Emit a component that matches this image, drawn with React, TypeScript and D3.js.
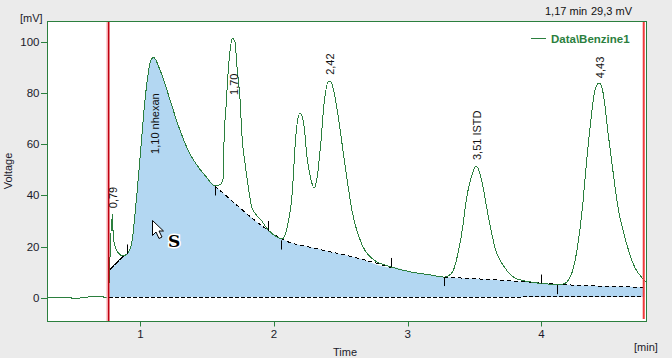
import React from "react";
import * as d3 from "d3";

const traceT = [0.307,0.474,0.497,0.609,0.699,0.736,0.758,0.770,0.773,0.791,0.798,0.811,0.835,0.861,0.880,0.910,0.936,0.960,0.985,1.043,1.073,1.099,1.147,1.222,1.275,1.357,1.499,1.559,1.596,1.621,1.626,1.641,1.664,1.690,1.708,1.723,1.746,1.761,1.783,1.798,1.836,1.903,1.956,2.038,2.060,2.097,2.135,2.165,2.195,2.225,2.247,2.277,2.300,2.322,2.352,2.375,2.412,2.427,2.464,2.502,2.547,2.584,2.659,2.749,2.876,3.026,3.175,3.272,3.302,3.339,3.377,3.414,3.437,3.474,3.512,3.549,3.601,3.654,3.728,3.803,3.923,4.050,4.162,4.222,4.260,4.290,4.312,4.327,4.365,4.402,4.432,4.462,4.499,4.544,4.574,4.626,4.701,4.761,4.783];
const traceV = [0,0,-0.4,0.2,0.6,0,-0.2,10.8,15.5,32.5,23.3,20.2,17.5,16.5,16.5,17.8,21.4,32.5,46.9,81.4,92.0,94.1,89.2,77.5,68.8,57.8,46.9,43.7,44.2,46.9,61.0,74.7,93.1,101.6,100.2,90.4,77.5,62.9,52.7,46.9,35.1,30.4,26.5,23.3,22.9,27.3,40.2,64.5,72.4,66.9,55.1,46.1,42.9,46.9,61.8,76.3,84.9,84.5,76.3,62.9,46.1,33.9,20.6,14.7,12.0,10.0,8.8,8.0,8.4,10.4,17.5,28.4,37.8,46.9,51.6,46.9,32.4,19.4,11.6,7.6,6.1,5.3,5.3,8.8,16.7,27.3,37.8,46.9,66.9,81.4,84.1,80.2,64.5,46.1,35.1,23.3,11.6,7.3,6.1];

const baseSegT = [[0.770,0.880],[1.559,1.626,1.950,2.060,2.324,2.623,2.873],[3.272,3.626,3.900,4.120,4.474,4.770]];
const baseSegV = [[10.8,16.5],[43.7,40.6,26.6,22.9,19.1,15.5,11.8],[8.0,7.0,6.1,5.2,4.4,4.0]];
const zeroT = [0.765,2.9,4.77];
const zeroV = [0.1,0.1,0.4];

const markT = [0.900,1.562,1.957,2.050,2.878,3.268,4.000,4.120];
const markTop = [20.8,43.7,30,22.4,15.5,8,9,4.9];
const markBottom = [17,40,26,18.8,12,4.5,5.5,1.3];

const labelTexts = ["0,79","1,10 nhexan","1,70","2,42","3,51 ISTD","4,43"];
const labelT = [0.796,1.11,1.70,2.42,3.52,4.44];
const labelV = [35,56.3,79.4,87.3,53.9,86];

const yTicks = [0,20,40,60,80,100];
const xTicks = [1,2,3,4];
const cursorStart = 0.758;
const cursorEnd = 4.762;

const W = 672, H = 358;
const L = 47.5, R = 646.5, T = 21.5, B = 321.5;
const FONT = "'Liberation Sans', sans-serif";
const GREEN = "#2b7f3e";
const TXT = "#1a1a2a";

export default function App() {
  const x = d3.scaleLinear().domain([0.307, 4.785]).range([L + 0.2, R - 0.2]);
  const y = d3.scaleLinear().domain([-9.4, 108.2]).range([B, T]);
  const pts: [number, number][] = traceT.map((t, i) => [t, traceV[i]]);
  const line = d3.line<[number, number]>().x(d => x(d[0])).y(d => y(d[1])).curve(d3.curveMonotoneX);
  const between = (a: number, b: number) => pts.filter(p => p[0] > a && p[0] < b);
  const seg = (i: number): [number, number][] => baseSegT[i].map((t, j) => [t, baseSegV[i][j]]);
  const top: [number, number][] = [
    ...seg(0), ...between(0.880, 1.559), ...seg(1), ...between(2.873, 3.272), ...seg(2),
  ];
  const area = d3.area<[number, number]>().x(d => x(d[0])).y0(y(0.2)).y1(d => y(d[1])).curve(d3.curveMonotoneX);

  return (
    <svg width={W} height={H} viewBox={`0 0 ${W} ${H}`} style={{ position: "absolute", left: 0, top: 0, background: "#ebebeb" }} fontFamily={FONT}>
      <rect x={L} y={T} width={R - L} height={B - T} fill="#fff" />
      <path d={area(top) ?? ""} fill="#b3d7f2" />
      {baseSegT.map((_, i) => (
        <path key={i} d={line(seg(i)) ?? ""} fill="none" stroke="#000" strokeDasharray={i === 0 ? "6 1" : "4 3"} shapeRendering="crispEdges" />
      ))}
      <path d={line(zeroT.map((t, i) => [t, zeroV[i]] as [number, number])) ?? ""} fill="none" stroke="#000" strokeDasharray="4 2" shapeRendering="crispEdges" />
      <path d={line(pts) ?? ""} fill="none" stroke={GREEN} strokeWidth={1} shapeRendering="crispEdges" />
      {markT.map((t, i) => (
        <line key={i} x1={Math.round(x(t)) + 0.5} x2={Math.round(x(t)) + 0.5} y1={y(markTop[i])} y2={y(markBottom[i])} stroke="#000" />
      ))}
      <rect x={x(cursorStart) - 1.5} y={T} width={1.5} height={B - T} fill="#f7a8ae" />
      <rect x={x(cursorStart)} y={T} width={1.5} height={B - T} fill="#c00010" />
      <rect x={x(cursorEnd) - 0.5} y={T} width={2} height={319 - T} fill="#f03c3c" />
      <rect x={L} y={T} width={R - L} height={B - T} fill="none" stroke={GREEN} />
      {labelTexts.map((s, i) => (
        <text key={s} transform={`translate(${x(labelT[i]) + 4},${y(labelV[i])}) rotate(-90)`} fontSize={11} fill="#111">{s}</text>
      ))}
      {yTicks.map(v => (
        <g key={v}>
          <line x1={41} x2={L} y1={Math.round(y(v)) + 0.5} y2={Math.round(y(v)) + 0.5} stroke={GREEN} />
          <text x={39.5} y={y(v) + 4} textAnchor="end" fontSize={11.5} fill={TXT}>{v}</text>
        </g>
      ))}
      {xTicks.map(v => (
        <g key={v}>
          <line x1={Math.round(x(v)) + 0.5} x2={Math.round(x(v)) + 0.5} y1={B} y2={B + 5} stroke={GREEN} />
          <text x={x(v)} y={338} textAnchor="middle" fontSize={11.5} fill={TXT}>{v}</text>
        </g>
      ))}
      <text x={20} y={22} fontSize={11} fill={TXT}>[mV]</text>
      <text transform="translate(12,171) rotate(-90)" textAnchor="middle" fontSize={11} fill={TXT}>Voltage</text>
      <text x={345} y={356} textAnchor="middle" fontSize={11} fill={TXT}>Time</text>
      <text x={634} y={351} fontSize={11} fill={TXT}>[min]</text>
      <text x={545} y={15} fontSize={11} fill="#111">1,17 min</text>
      <text x={591} y={15} fontSize={11} fill="#111">29,3 mV</text>
      <line x1={531} x2={546} y1={38.5} y2={38.5} stroke={GREEN} />
      <text x={551} y={43} fontSize={11.5} fontWeight="bold" fill={GREEN}>Data\Benzine1</text>
      <path d="M152.5 220.5 L152.5 235.5 L156 232 L159 238.5 L162 237 L159 231 L163.5 231 Z" fill="#fff" stroke="#000" />
      <text x={168} y={247} fontSize={17} fontWeight="bold" fontFamily="'DejaVu Serif', serif" fill="#000" stroke="#fff" strokeWidth={3} paintOrder="stroke">S</text>
    </svg>
  );
}
